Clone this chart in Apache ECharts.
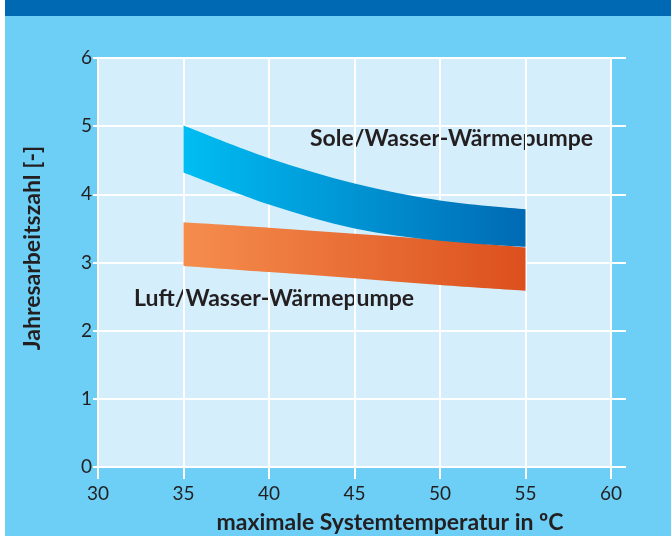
<!DOCTYPE html>
<html>
<head>
<meta charset="utf-8">
<script src="https://cdn.jsdelivr.net/npm/echarts@6/dist/echarts.min.js"></script>
<style>
html,body{margin:0;padding:0;background:#ffffff;}
#wrap{position:absolute;left:5px;top:0;width:666px;height:536px;background:#6dcff6;}
#bar{position:absolute;left:0;top:0;width:666px;height:16px;background:#0069b4;}
#chart{position:absolute;left:0;top:0;width:671px;height:536px;}
</style>
</head>
<body>
<div id="wrap"><div id="bar"></div></div>
<div id="chart"></div>
<script>
const temps = [35, 40, 45, 50, 55];
const soleUpper = [5.01, 4.53, 4.16, 3.91, 3.78];
const soleLower = [4.32, 3.85, 3.50, 3.32, 3.23];
const luftUpper = [3.59, 3.51, 3.42, 3.33, 3.22];
const luftLower = [2.95, 2.86, 2.77, 2.67, 2.585];
const xTicks = [30, 35, 40, 45, 50, 55, 60];
const yTicks = [0, 1, 2, 3, 4, 5, 6];
const labelSole = 'Sole/Wasser-Wärmepumpe';
const labelLuft = 'Luft/Wasser-Wärmepumpe';
const xTitle = 'maximale Systemtemperatur in ºC';
const yTitle = 'Jahresarbeitszahl [-]';

const chart = echarts.init(document.getElementById('chart'), null, {renderer: 'canvas'});
const FONT = 'Lato';
const TXT = '#231f20';

function grad(c0, c1) {
  return new echarts.graphic.LinearGradient(0, 0, 1, 0, [{offset: 0, color: c0}, {offset: 1, color: c1}]);
}

// smooth path (Catmull-Rom → cubic Bézier) through pixel points from api.coord
function curve(pts, start) {
  let d = start ? 'M' + pts[0][0] + ',' + pts[0][1] : 'L' + pts[0][0] + ',' + pts[0][1];
  for (let i = 0; i < pts.length - 1; i++) {
    const p0 = pts[Math.max(i - 1, 0)], p1 = pts[i], p2 = pts[i + 1], p3 = pts[Math.min(i + 2, pts.length - 1)];
    const c1 = [p1[0] + (p2[0] - p0[0]) / 6, p1[1] + (p2[1] - p0[1]) / 6];
    const c2 = [p2[0] - (p3[0] - p1[0]) / 6, p2[1] - (p3[1] - p1[1]) / 6];
    d += ' C' + c1[0] + ',' + c1[1] + ' ' + c2[0] + ',' + c2[1] + ' ' + p2[0] + ',' + p2[1];
  }
  return d;
}

function bandSeries(name, up, lo, c0, c1) {
  return {
    type: 'custom', name: name, silent: true,
    data: temps.map((t, i) => [t, up[i], lo[i]]),
    encode: {x: 0, y: [1, 2]},
    renderItem: function (params, api) {
      if (params.dataIndex !== 0) return null;
      const upPts = temps.map((t, i) => api.coord([t, up[i]]));
      const loPts = temps.map((t, i) => api.coord([t, lo[i]])).reverse();
      const d = curve(upPts, true) + ' ' + curve(loPts, false) + ' Z';
      return {type: 'path', shape: {pathData: d}, style: {fill: grad(c0, c1), stroke: null}};
    }
  };
}

chart.setOption({
  animation: false,
  backgroundColor: 'transparent',
  grid: {left: 98, right: 60, top: 58, bottom: 69, show: true, backgroundColor: '#d4eefb', borderWidth: 0},
  xAxis: {
    type: 'value', min: xTicks[0], max: xTicks[xTicks.length - 1], interval: 5,
    axisLine: {show: true, lineStyle: {color: '#ffffff', width: 2}},
    axisTick: {show: true, length: 12, lineStyle: {color: '#ffffff', width: 2}},
    splitLine: {show: true, lineStyle: {color: '#ffffff', width: 2}},
    axisLabel: {margin: 17, fontFamily: FONT, fontSize: 19, color: TXT}
  },
  yAxis: [{
    type: 'value', min: yTicks[0], max: yTicks[yTicks.length - 1], interval: 1,
    axisLine: {show: true, lineStyle: {color: '#ffffff', width: 2}},
    axisTick: {show: true, length: 5, lineStyle: {color: '#ffffff', width: 2}},
    splitLine: {show: true, lineStyle: {color: '#ffffff', width: 2}},
    axisLabel: {margin: 6, fontFamily: FONT, fontSize: 19, color: TXT}
  }, {
    type: 'value', position: 'right', min: yTicks[0], max: yTicks[yTicks.length - 1], interval: 1,
    axisLine: {show: false},
    axisTick: {show: true, length: 15, lineStyle: {color: '#ffffff', width: 2}},
    splitLine: {show: false},
    axisLabel: {show: false}
  }],
  series: [
    bandSeries('Luft/Wasser', luftUpper, luftLower, '#f58d4d', '#dc501e'),
    bandSeries('Sole/Wasser', soleUpper, soleLower, '#00bdf2', '#006ab4')
  ],
  graphic: [
    {type: 'text', x: 310, y: 139, style: {text: labelSole, fontFamily: FONT, fontWeight: 'bold', fontSize: 23, fill: TXT, verticalAlign: 'middle'}},
    {type: 'text', x: 134, y: 299, style: {text: labelLuft, fontFamily: FONT, fontWeight: 'bold', fontSize: 23, fill: TXT, verticalAlign: 'middle'}},
    {type: 'text', x: 390, y: 523, style: {text: xTitle, fontFamily: FONT, fontWeight: 'bold', fontSize: 23, fill: TXT, align: 'center', verticalAlign: 'middle'}},
    {type: 'text', x: 33, y: 248, rotation: Math.PI / 2, style: {text: yTitle, fontFamily: FONT, fontWeight: 'bold', fontSize: 23, fill: TXT, align: 'center', verticalAlign: 'middle'}}
  ]
});
</script>
</body>
</html>
